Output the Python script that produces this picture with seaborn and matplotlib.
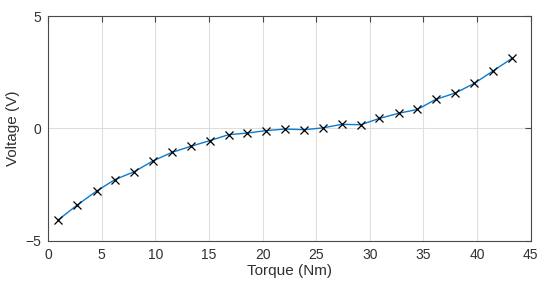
import numpy as np
import pandas as pd
import matplotlib
matplotlib.use('Agg')
import matplotlib.pyplot as plt
import seaborn as sns

# values
torque = [0.96, 2.73, 4.53, 6.24, 8.04, 9.82, 11.56, 13.3, 15.07, 16.84,
          18.58, 20.35, 22.1, 23.86, 25.63, 27.4, 29.14, 30.88, 32.68,
          34.42, 36.16, 37.96, 39.73, 41.47, 43.27]
voltage = [-4.07, -3.41, -2.79, -2.28, -1.93, -1.44, -1.07, -0.80, -0.55,
           -0.28, -0.21, -0.10, -0.03, -0.06, 0.02, 0.18, 0.16, 0.44, 0.67,
           0.84, 1.29, 1.57, 2.00, 2.55, 3.12]
x_ticks = [0, 5, 10, 15, 20, 25, 30, 35, 40, 45]
y_ticks = [-5, 0, 5]

df = pd.DataFrame({'Torque': torque, 'Voltage': voltage})

sns.set_style('white')
plt.rcParams['font.family'] = ['Liberation Sans', 'DejaVu Sans']

fig = plt.figure(figsize=(5.5, 2.91), dpi=100)
ax = fig.add_axes([0.0873, 0.1729, 0.8777, 0.7721])

sns.lineplot(data=df, x='Torque', y='Voltage', ax=ax, color='#0b7bd0',
             linewidth=1.0, zorder=2)
ax.plot(df['Torque'], df['Voltage'], linestyle='none', marker='x',
        color='black', markersize=6, markeredgewidth=0.9, zorder=3)

ax.set_xlim(0, 45)
ax.set_ylim(-5, 5)
ax.set_xticks(x_ticks)
ax.set_yticks(y_ticks)
ax.grid(True, color='#dedede', linewidth=0.8)
ax.set_axisbelow(True)

for s in ax.spines.values():
    s.set_color('#4a4a4a')
    s.set_linewidth(0.8)
ax.tick_params(direction='in', length=4, width=0.8, color='#4a4a4a',
               labelcolor='#303030', labelsize=10, top=True, right=True,
               pad=5)
ax.set_xlabel('Torque (Nm)', fontsize=11, color='#303030', labelpad=2)
ax.set_ylabel('Voltage (V)', fontsize=11, color='#303030', labelpad=4)

fig.savefig('out.png', dpi=100)
